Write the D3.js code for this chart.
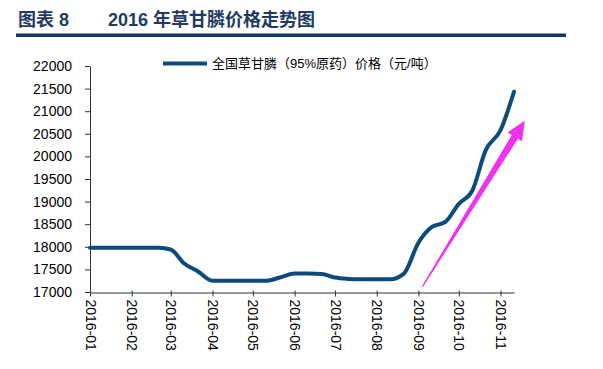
<!DOCTYPE html>
<html>
<head>
<meta charset="utf-8">
<script src="https://cdn.jsdelivr.net/npm/d3@7"></script>
<style>
	body { margin: 0; background: #fff; }
	svg { display: block; font-family: "Liberation Sans", Arial, "Noto Sans CJK SC", sans-serif; }
</style>
</head>
<body>
<svg id="chart" width="603" height="369"></svg>
<script>
// dekad price series (上/中/下旬)
const dates = ["2016-01-01","2016-01-11","2016-01-21","2016-02-01","2016-02-11","2016-02-21",
	"2016-03-01","2016-03-11","2016-03-21","2016-04-01","2016-04-11","2016-04-21",
	"2016-05-01","2016-05-11","2016-05-21","2016-06-01","2016-06-11","2016-06-21",
	"2016-07-01","2016-07-11","2016-07-21","2016-08-01","2016-08-11","2016-08-21",
	"2016-09-01","2016-09-11","2016-09-21","2016-10-01","2016-10-11","2016-10-21",
	"2016-11-01","2016-11-11"];
const prices = [17980,17980,17980,17980,17980,17980,
	17940,17630,17460,17250,17250,17250,
	17250,17250,17320,17410,17410,17400,
	17320,17290,17280,17280,17280,17400,
	18090,18440,18550,18950,19240,20140,
	20580,21430];
const yTicks = [17000,17500,18000,18500,19000,19500,20000,20500,21000,21500,22000];
// trend arrow annotation, tail -> tip
const arrowDates = ["2016-09-04", "2016-11-19"];
const arrowValues = [17120, 20790];

const seriesName = "全国草甘膦（95%原药）价格（元/吨）";

const svg = d3.select("#chart");
const parse = d3.timeParse("%Y-%m-%d");

const x = d3.scaleTime()
	.domain([parse("2016-01-01"), parse("2016-11-11")])
	.range([90, 514]);
const y = d3.scaleLinear()
	.domain([17000, 22000])
	.range([292, 66]);

// title + rule
svg.append("text")
	.attr("x", 18).attr("y", 26)
	.attr("fill", "#1f3b63")
	.style("font-size", "18px").style("font-weight", "bold")
	.text("图表 8");
svg.append("text")
	.attr("x", 108).attr("y", 26)
	.attr("fill", "#1f3b63")
	.style("font-size", "18px").style("font-weight", "bold")
	.text("2016 年草甘膦价格走势图");
svg.append("rect")
	.attr("x", 16).attr("y", 33.5)
	.attr("width", 550).attr("height", 3.5)
	.attr("fill", "#13345e");

// y axis
const yAxis = svg.append("g")
	.attr("transform", "translate(90,0)")
	.call(d3.axisLeft(y).tickValues(yTicks).tickFormat(d3.format("d"))
		.tickSize(5).tickPadding(13).tickSizeOuter(0));
yAxis.select(".domain").attr("stroke", "#333");
yAxis.selectAll(".tick line").attr("stroke", "#333");
yAxis.selectAll("text").style("font-size", "14px").attr("fill", "#000");

// x axis
const months = d3.timeMonth.range(parse("2016-01-01"), parse("2016-11-02"));
const xAxis = svg.append("g")
	.attr("transform", "translate(0,292.5)")
	.call(d3.axisBottom(x).tickValues(months).tickFormat(d3.timeFormat("%Y-%m")).tickSize(4).tickSizeOuter(0));
xAxis.select(".domain").attr("stroke", "#333");
xAxis.selectAll(".tick line").attr("stroke", "#333").attr("y1", -2);
xAxis.selectAll("text")
	.style("font-size", "14px")
	.attr("fill", "#000")
	.attr("text-anchor", "start")
	.attr("transform", "rotate(90)")
	.attr("x", 7).attr("y", 0).attr("dy", "0.35em");

// price line
const data = dates.map((d, i) => ({ date: parse(d), value: prices[i] }));
const line = d3.line()
	.x(d => x(d.date))
	.y(d => y(d.value))
	.curve(d3.curveMonotoneX);
svg.append("path")
	.datum(data)
	.attr("d", line)
	.attr("fill", "none")
	.attr("stroke", "#0d4b7e")
	.attr("stroke-width", 4)
	.attr("stroke-linejoin", "round")
	.attr("stroke-linecap", "round");

// magenta tapered arrow
const x0 = x(parse(arrowDates[0])), y0 = y(arrowValues[0]);
const x1 = x(parse(arrowDates[1])), y1 = y(arrowValues[1]);
const len = Math.hypot(x1 - x0, y1 - y0);
const ux = (x1 - x0) / len, uy = (y1 - y0) / len;
const px = -uy, py = ux;
const headLen = 19, headW = 8.5, shaftW = 3.6, tailW = 0.6;
const bx = x1 - ux * headLen, by = y1 - uy * headLen;
const pts = [
	[x0 + px * tailW, y0 + py * tailW],
	[bx + px * shaftW, by + py * shaftW],
	[bx + px * headW, by + py * headW],
	[x1, y1],
	[bx - px * headW, by - py * headW],
	[bx - px * shaftW, by - py * shaftW],
	[x0 - px * tailW, y0 - py * tailW]
];
svg.append("path")
	.attr("d", "M" + pts.map(p => p.join(",")).join("L") + "Z")
	.attr("fill", "#f032f0");

// legend
svg.append("line")
	.attr("x1", 163).attr("x2", 207)
	.attr("y1", 63.5).attr("y2", 63.5)
	.attr("stroke", "#0d4b7e").attr("stroke-width", 4);
svg.append("text")
	.attr("x", 212).attr("y", 68)
	.style("font-size", "13px")
	.attr("fill", "#000")
	.text(seriesName);
</script>
</body>
</html>
